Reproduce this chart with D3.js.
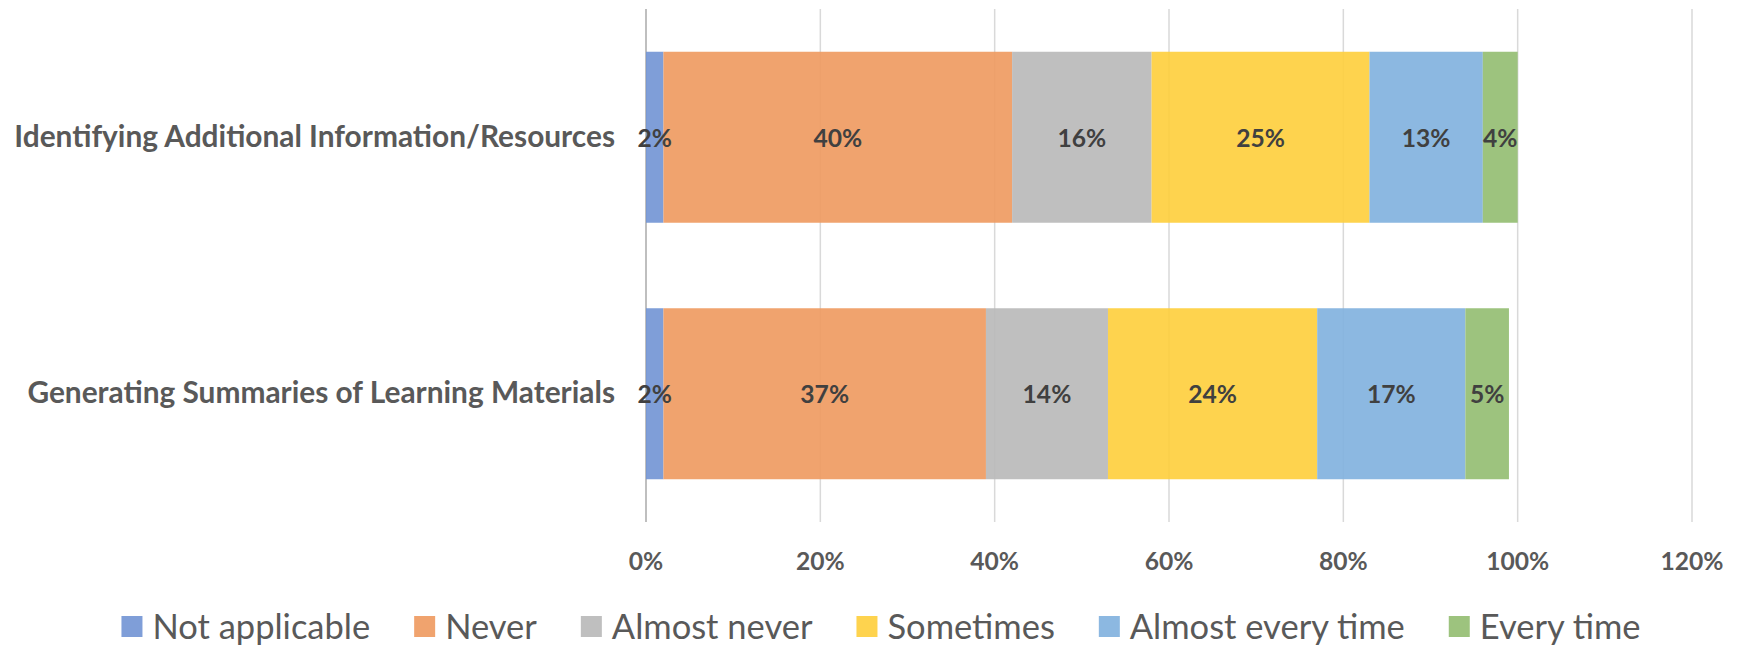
<!DOCTYPE html>
<html>
<head>
<meta charset="utf-8">
<script src="https://cdn.jsdelivr.net/npm/d3@7"></script>
<style>
  body { margin: 0; background: #fff; }
  svg text { font-family: Lato, "Open Sans", sans-serif; }
</style>
</head>
<body>
<div class="chart"></div>
<script>
// DATA
const categories = ["Identifying Additional Information/Resources", "Generating Summaries of Learning Materials"];
const seriesNames = ["Not applicable", "Never", "Almost never", "Sometimes", "Almost every time", "Every time"];
const notApplicable = [2, 2];
const never = [40, 37];
const almostNever = [16, 14];
const sometimes = [25, 24];
const almostEveryTime = [13, 17];
const everyTime = [4, 5];
const xTicks = [0, 20, 40, 60, 80, 100, 120];
const colors = ["#7194D4", "#EE995E", "#B8B8B8", "#FECE3B", "#80B0DE", "#92BD70"];

const seriesValues = [notApplicable, never, almostNever, sometimes, almostEveryTime, everyTime];
const rows = categories.map((c, i) => {
  let r = {category: c};
  seriesNames.forEach((s, j) => r[s] = seriesValues[j][i]);
  return r;
});

//CHART INIT
const outerWidth = 1746, outerHeight = 645;
const svg = d3.select('.chart').append('svg')
  .attr('width', outerWidth)
  .attr('height', outerHeight);

// helper: find a font size so that the text gets the wanted width
function fitSize(txt, weight, target, base) {
  let t = svg.append('text').attr('font-size', base).attr('font-weight', weight).text(txt);
  let w = t.node().getComputedTextLength();
  t.remove();
  return base * target / w;
}

const catSize = fitSize(categories[0], 'bold', 601, 30);
const tickSize = fitSize('100%', 'bold', 63, 28);
const legSize = fitSize('Almost every time', 'normal', 275, 33);

const xScale = d3.scaleLinear().domain([0, 120]).range([646, 1692]);
const yScale = d3.scaleBand().domain(categories).range([9, 522])
  .paddingInner(1/3).paddingOuter(1/6);

// gridlines
svg.append('g').selectAll('line')
  .data(xTicks)
  .join('line')
  .attr('x1', d => xScale(d)).attr('x2', d => xScale(d))
  .attr('y1', 9).attr('y2', 522)
  .attr('stroke', d => d == 0 ? '#BFBFBF' : '#D9D9D9')
  .attr('stroke-width', d => d == 0 ? 2 : 1.5);

// x tick labels
svg.append('g').selectAll('text')
  .data(xTicks)
  .join('text')
  .attr('x', d => xScale(d))
  .attr('y', 561)
  .attr('dy', '0.35em')
  .attr('text-anchor', 'middle')
  .attr('font-size', tickSize)
  .attr('font-weight', 'bold')
  .attr('fill', '#595959')
  .text(d => d + '%');

// category labels
svg.append('g').selectAll('text')
  .data(categories)
  .join('text')
  .attr('x', 615)
  .attr('y', d => yScale(d) + yScale.bandwidth() / 2 - 1)
  .attr('dy', '0.35em')
  .attr('text-anchor', 'end')
  .attr('font-size', catSize)
  .attr('font-weight', 'bold')
  .attr('fill', '#595959')
  .text(d => d);

// stacked bars
const stacked = d3.stack().keys(seriesNames)(rows);
const layer = svg.append('g').selectAll('g')
  .data(stacked)
  .join('g')
  .attr('fill', (d, i) => colors[i])
  .attr('fill-opacity', 0.9);

layer.selectAll('rect')
  .data(d => d)
  .join('rect')
  .attr('x', d => xScale(d[0]))
  .attr('y', d => yScale(d.data.category))
  .attr('width', d => xScale(d[1]) - xScale(d[0]))
  .attr('height', yScale.bandwidth());

// bar labels
const labels = svg.append('g');
stacked.forEach(s => {
  labels.selectAll(null)
    .data(s)
    .join('text')
    .attr('x', d => xScale((d[0] + d[1]) / 2))
    .attr('y', d => yScale(d.data.category) + yScale.bandwidth() / 2 + 1)
    .attr('dy', '0.35em')
    .attr('text-anchor', 'middle')
    .attr('font-size', tickSize)
    .attr('font-weight', 'bold')
    .attr('fill', '#404040')
    .text(d => (d[1] - d[0]) + '%');
});

// legend
const legend = svg.append('g');
const items = legend.selectAll('g')
  .data(seriesNames)
  .join('g');
items.append('rect')
  .attr('width', 21).attr('height', 21)
  .attr('y', 616)
  .attr('fill', (d, i) => colors[i])
  .attr('fill-opacity', 0.9);
items.append('text')
  .attr('x', 31)
  .attr('y', 626.5)
  .attr('dy', '0.35em')
  .attr('font-size', legSize)
  .attr('fill', '#595959')
  .text(d => d);

let widths = [];
items.each(function() { widths.push(d3.select(this).select('text').node().getComputedTextLength()); });
let total = d3.sum(widths, w => 31 + w) + 44 * (widths.length - 1);
let x0 = 881 - total / 2;
items.attr('transform', (d, i) => {
  let x = x0;
  x0 += 31 + widths[i] + 44;
  return `translate(${x},0)`;
});
</script>
</body>
</html>
